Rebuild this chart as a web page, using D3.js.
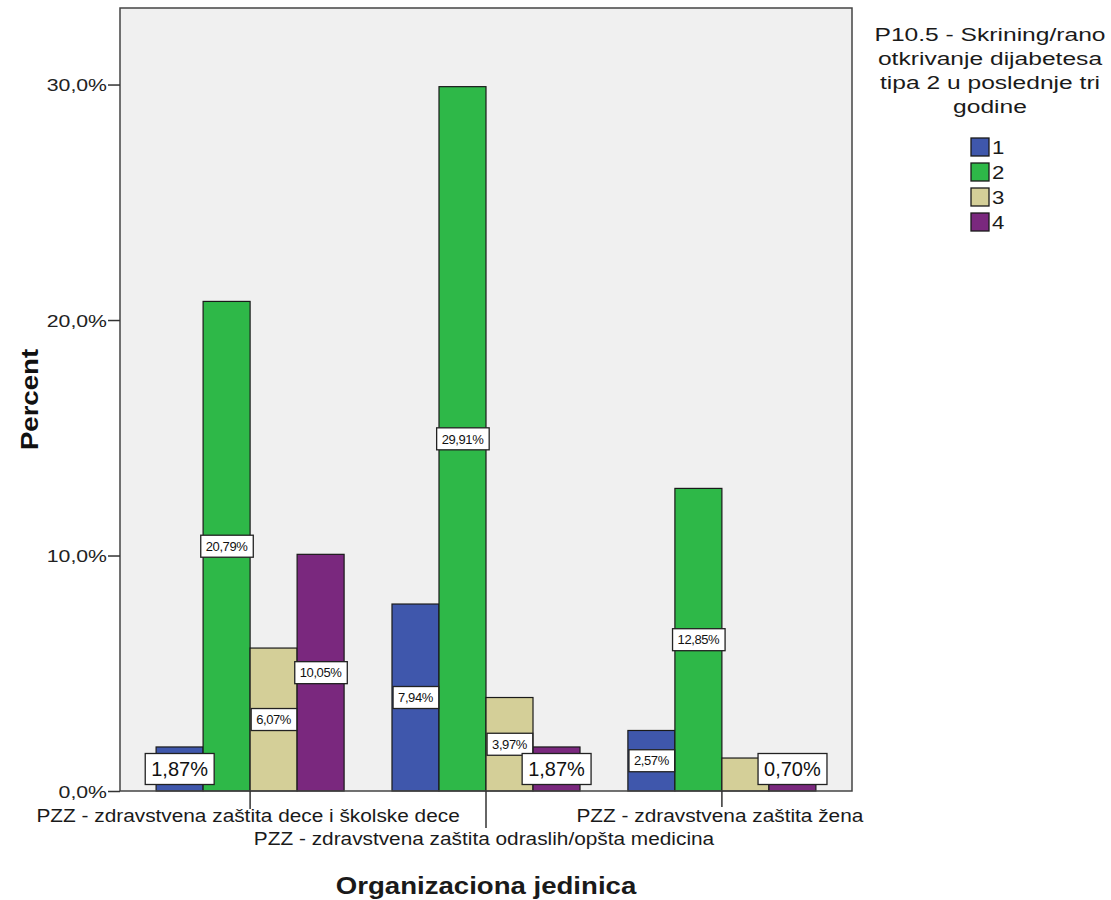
<!DOCTYPE html>
<html><head><meta charset="utf-8">
<script src="https://cdn.jsdelivr.net/npm/d3@7"></script>
<style>body{margin:0;background:#fff}</style>
</head><body>
<svg id="c" width="1111" height="900"></svg>
<script>
const categories = [
  "PZZ - zdravstvena zaštita dece i školske dece",
  "PZZ - zdravstvena zaštita odraslih/opšta medicina",
  "PZZ - zdravstvena zaštita žena"
];
const seriesNames = ["1", "2", "3", "4"];
const seriesColors = ["#3F57AC", "#2EB848", "#D4CF98", "#7A287E"];
const values1 = [1.87, 7.94, 2.57];
const values2 = [20.79, 29.91, 12.85];
const values3 = [6.07, 3.97, 1.40];
const values4 = [10.05, 1.87, 0.70];
const showLabel3 = [true, true, false];
const yTicks = [0, 10, 20, 30];
const legendTitle = ["P10.5 - Skrining/rano", "otkrivanje dijabetesa", "tipa 2 u poslednje tri", "godine"];

const allValues = [values1, values2, values3, values4];
const data = [];
categories.forEach((c, ci) => seriesNames.forEach((s, si) => {
  const v = allValues[si][ci];
  const show = si === 2 ? showLabel3[ci] : true;
  data.push({cat: c, ci, s, si, v, show});
}));

const FONT = "Liberation Sans, Arial, sans-serif";
const svg = d3.select("#c");
const L = 120, R = 852, T = 8, B = 791;
const x0 = d3.scaleBand().domain(categories).range([L, R]).paddingInner(0.203).paddingOuter(0.153);
const x1 = d3.scaleBand().domain(seriesNames).range([0, x0.bandwidth()]);
const y = d3.scaleLinear().domain([0, 33.25]).range([B, T]);
const color = d3.scaleOrdinal().domain(seriesNames).range(seriesColors);

// stretched text helper
function stext(parent, x, yy, str, size, sx, anchor, weight) {
  return parent.append("text")
    .attr("transform", `translate(${x},${yy}) scale(${sx},1)`)
    .attr("text-anchor", anchor || "middle")
    .attr("font-family", FONT).attr("font-size", size)
    .attr("font-weight", weight || "normal")
    .attr("fill", "#1a1a1a").text(str);
}

svg.append("rect").attr("x", L).attr("y", T).attr("width", R - L).attr("height", B - T)
  .attr("fill", "#F0F0F0");

// bars
svg.append("g").selectAll("rect").data(data).join("rect")
  .attr("x", d => x0(d.cat) + x1(d.s))
  .attr("y", d => y(d.v))
  .attr("width", x1.bandwidth())
  .attr("height", d => y(0) - y(d.v))
  .attr("fill", d => color(d.s))
  .attr("stroke", "#1a1a1a").attr("stroke-width", 1.2);

// frame
svg.append("rect").attr("x", L).attr("y", T).attr("width", R - L).attr("height", B - T)
  .attr("fill", "none").attr("stroke", "#444").attr("stroke-width", 1.5);

// y axis
const yAxis = d3.axisLeft(y).tickValues(yTicks).tickSize(12).tickSizeOuter(0)
  .tickFormat(d => d3.format(".1f")(d).replace(".", ",") + "%");
const gy = svg.append("g").attr("transform", `translate(${L},0)`).call(yAxis);
gy.select(".domain").remove();
gy.selectAll(".tick line").attr("stroke", "#333").attr("stroke-width", 1.5);
gy.selectAll(".tick text").attr("font-family", FONT)
  .attr("font-size", 17).attr("fill", "#222").attr("x", null).attr("dy", "0.36em")
  .attr("transform", "translate(-13,0) scale(1.25,1)");

// x axis with staggered labels
const gx = svg.append("g");
const tickLen = [18, 37, 16];
const labelY = [822, 845, 822];
categories.forEach((c, i) => {
  const cx = x0(c) + x0.bandwidth() / 2;
  gx.append("line").attr("x1", cx).attr("x2", cx).attr("y1", B).attr("y2", B + tickLen[i])
    .attr("stroke", "#333").attr("stroke-width", 1.5);
  stext(gx, cx - 2, labelY[i], c, 17.5, 1.19, "middle");
});

// value labels
const fmt = v => d3.format(".2f")(v).replace(".", ",") + "%";
const lab = svg.append("g");
data.filter(d => d.show).forEach(d => {
  const cx = x0(d.cat) + x1(d.s) + x1.bandwidth() / 2;
  const big = d.v < 2;
  const cy = big ? y(0) - 22 : (y(d.v) + y(0)) / 2;
  const g = lab.append("g");
  const t = g.append("text").attr("x", cx).attr("y", cy).attr("dy", "0.36em")
    .attr("text-anchor", "middle")
    .attr("font-family", big ? FONT : "Liberation Sans Narrow, Arial Narrow, Liberation Sans, sans-serif")
    .attr("font-size", big ? 20 : 13)
    .attr("letter-spacing", big ? 0 : -0.4)
    .attr("fill", "#111").text(fmt(d.v));
  const bb = t.node().getBBox();
  const px = big ? 6 : 5, h = big ? 31 : 22;
  g.insert("rect", "text").attr("x", bb.x - px).attr("y", cy - h / 2)
    .attr("width", bb.width + 2 * px).attr("height", h)
    .attr("fill", "#fff").attr("stroke", "#222").attr("stroke-width", 1.3);
});

// axis titles
svg.append("text").attr("transform", `translate(38,${(T + B) / 2}) rotate(-90) scale(1.2,1)`)
  .attr("text-anchor", "middle").attr("font-family", FONT)
  .attr("font-weight", "bold").attr("font-size", 23).attr("fill", "#111").text("Percent");
stext(svg, (L + R) / 2, 894, "Organizaciona jedinica", 23, 1.2, "middle", "bold");

// legend
const lg = svg.append("g");
legendTitle.forEach((t, i) => {
  stext(lg, 990, 41 + i * 24, t, 18.5, 1.33, "middle");
});
seriesNames.forEach((s, i) => {
  const yy = 138 + i * 25;
  lg.append("rect").attr("x", 971).attr("y", yy).attr("width", 18).attr("height", 18)
    .attr("fill", color(s)).attr("stroke", "#1a1a1a").attr("stroke-width", 1.3);
  stext(lg, 992, yy + 16, s, 18.5, 1.2, "start");
});
</script>
</body></html>
